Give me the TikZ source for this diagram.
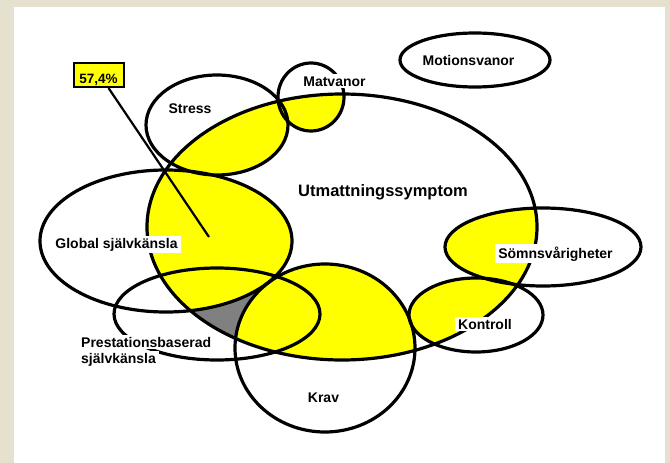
\documentclass[tikz,border=0pt]{standalone}
\usepackage{fontspec}
\setmainfont{Liberation Sans}
\usetikzlibrary{calc}

\definecolor{framebeige}{RGB}{230,225,207}
\definecolor{venyellow}{RGB}{255,255,0}
\definecolor{vengray}{RGB}{128,128,128}

\newcommand{\ellutm}{(342,227) ellipse [x radius=195, y radius=133]}
\newcommand{\ellstress}{(217,125) ellipse [x radius=71, y radius=50]}
\newcommand{\ellmatv}{(311,97) ellipse [x radius=33, y radius=34]}
\newcommand{\ellmotion}{(475,60) ellipse [x radius=75, y radius=27]}
\newcommand{\ellglob}{(166,241) ellipse [x radius=126, y radius=71]}
\newcommand{\ellpres}{(217,314) ellipse [x radius=103, y radius=46]}
\newcommand{\ellkrav}{(325,348) ellipse [x radius=90, y radius=84]}
\newcommand{\ellsomn}{(543,247) ellipse [x radius=98, y radius=39]}
\newcommand{\ellkontroll}{(476,315) ellipse [x radius=67, y radius=37]}

\begin{document}
\begin{tikzpicture}[x=1pt,y=-1pt,
	ring/.style={draw=black,line width=3.2pt},
	text node/.style={font=\fontsize{14}{16}\selectfont\bfseries,inner xsep=3pt,inner ysep=2pt,anchor=base},
	white node/.style={text node,fill=white}]
	
	\fill[framebeige] (0,0) rectangle (670,463);
	\fill[white] (14,7) rectangle (665,463);
	
	\begin{scope}
		\clip \ellutm;
		\fill[vengray] \ellpres;
		\fill[venyellow] \ellstress \ellmatv \ellglob \ellkrav \ellsomn \ellkontroll;
	\end{scope}
	
	\draw[ring] \ellutm;
	\draw[ring] \ellstress;
	\draw[ring] \ellmatv;
	\draw[ring] \ellmotion;
	\draw[ring] \ellglob;
	\draw[ring] \ellpres;
	\draw[ring] \ellkrav;
	\draw[ring] \ellsomn;
	\draw[ring] \ellkontroll;
	
	\node[text node,font=\fontsize{16.5}{19}\selectfont\bfseries] (utm) at (383,196) {Utmattningssymptom};
	\node[text node] (stress) at (190,113) {Stress};
	\node[white node] (matv) at (334.5,86) {Matvanor};
	\node[text node] (motion) at (468.5,65) {Motionsvanor};
	\node[white node] (glob) at (116.5,248) {Global självkänsla};
	\node[white node,anchor=base west] (pres1) at (78,347) {Prestationsbaserad};
	\node[white node,anchor=base west] (pres2) at (78,363) {självkänsla};
	\node[text node] (krav) at (323.5,402) {Krav};
	\node[white node] (somn) at (555.5,258) {Sömnsvårigheter};
	\node[white node] (kontroll) at (485,329) {Kontroll};
	
	\coordinate (tip) at (209,237);
	\node[draw=black,line width=2pt,fill=venyellow,anchor=base,inner sep=0pt,
		text height=20pt,text depth=4pt,minimum width=50pt,
		font=\fontsize{13.5}{16}\selectfont\bfseries] (pct) at (98.5,83) {57,4\%};
	\draw[line width=2.2pt] ([xshift=10pt]pct.south) -- (tip);
\end{tikzpicture}
\end{document}
